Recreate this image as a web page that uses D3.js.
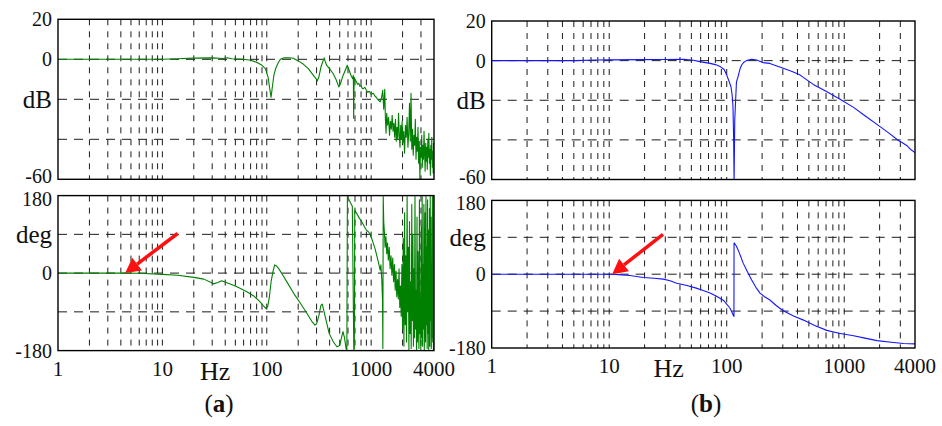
<!DOCTYPE html>
<html>
<head>
<meta charset="utf-8">
<script src="https://cdn.jsdelivr.net/npm/d3@7"></script>
<style>
  body { margin: 0; background: #fff; }
  svg { display: block; }
  text { font-family: "Liberation Serif", "Times New Roman", serif; fill: #111; }
</style>
</head>
<body>
<svg id="chart" width="942" height="426"></svg>
<script>
// ---- Measured response (a): magnitude in dB ----
const magFreqA = [1, 2, 5, 10, 14, 20, 30, 38, 42, 46, 60, 70, 80, 90, 97, 103, 107, 110, 113, 117, 121, 128, 135, 145, 165, 180, 200, 225, 250, 275, 295, 305, 315, 330, 345, 355, 365, 375, 390, 410, 430, 460, 490, 510, 530, 560, 590, 610, 640, 665, 675, 680, 688, 705, 720, 740, 760, 780, 800, 820, 840, 870, 900, 930, 960, 1000, 1050, 1090, 1120, 1150, 1180, 1220, 1260, 1290, 1320,
  1350, 1370, 1390, 1410, 1440, 1470, 1500, 1530, 1560, 1590, 1620, 1650, 1680, 1710, 1740, 1770, 1800, 1830, 1860, 1890, 1920, 1950, 1980, 2010, 2050, 2090, 2130, 2170, 2210, 2250, 2290, 2330, 2370, 2410, 2450, 2490, 2530, 2570, 2610, 2650, 2690, 2730, 2770, 2810, 2850, 2890, 2930, 2970, 3010, 3050, 3090, 3130, 3170, 3210, 3250, 3290, 3330, 3370, 3410, 3450, 3490, 3530, 3570, 3610, 3650, 3690, 3730, 3770, 3810, 3850, 3890, 3930, 3970, 4000];
const magA = [0, 0, 0, 0, 0.3, 0.6, 0.7, 0.4, 0.8, 0.3, 0, -0.5, -1.5, -3, -4.7, -9, -15, -19, -14, -8, -5, -2, 0, 0.7, 0.8, 0.5, -0.8, -2.5, -4.7, -7.5, -9.5, -10.8, -9, -4, -1, 0.7, -1.5, -3, -4, -5.5, -7, -10, -13.8, -12, -9, -6, -3, -5, -8, -9.7, -8, -29.5, -9, -10.5, -11, -12.5, -12, -13.5, -13, -14.5, -14.7, -14, -15.5, -16.5, -16, -17.5, -17, -18.5, -19, -20, -20.5, -21.3, -19, -15.5, -25,
  -15, -30, -37, -27, -33, -29, -38, -31, -35, -28, -36, -32, -39, -30, -41, -34, -40, -27, -38, -44, -33, -40, -31, -42, -36, -47, -33, -39, -29, -44, -37, -22, -41, -17, -45, -35, -48, -38, -43, -30, -50, -39, -46, -34, -52, -41, -60, -44, -49, -38, -54, -43, -50, -36, -47, -56, -42, -51, -44, -55, -40, -49, -37, -52, -45, -58, -43, -50, -39, -54, -46, -57, -42, -48];

// ---- Measured response (a): phase in degrees ----
const phaseFreqA = [1, 4, 6, 10, 14, 20, 25, 31, 34, 37, 42, 50, 56, 65, 75, 85, 93, 98, 102, 106, 110, 115, 119, 125, 132, 145, 160, 181, 210, 243, 270, 290, 300, 315, 330, 340, 350, 370, 396, 435, 470, 500, 520, 537, 555, 575, 585, 592, 620, 660, 682, 690, 697, 730, 760, 800, 830, 870, 900, 940, 970, 1030, 1090, 1160, 1220,
  1240, 1265, 1285, 1295, 1305, 1320, 1340, 1360, 1385, 1410, 1435, 1460, 1490, 1520, 1550, 1580, 1610, 1640, 1670, 1700, 1730, 1760, 1790, 1820, 1850, 1880, 1910, 1940, 1970, 2000, 2030, 2060, 2090, 2120, 2150, 2180, 2210, 2240, 2270, 2300, 2330, 2360, 2390, 2420, 2450, 2480, 2510, 2540, 2570, 2600, 2630, 2660, 2690, 2720, 2750, 2780, 2810, 2840, 2870, 2900, 2930, 2960, 2990, 3020, 3050, 3080, 3110, 3140, 3170, 3200, 3230, 3260, 3290, 3320, 3350, 3380, 3410, 3440, 3470, 3500, 3530, 3560, 3590, 3620, 3650, 3680, 3710, 3740, 3770, 3800, 3830, 3860, 3890, 3920, 3950, 3980, 4000];
const phaseA = [0, 0, -0.5, -3, -5, -10, -14, -25, -22, -18, -23, -30, -36, -44, -53, -65, -76, -82, -78, -55, -20, 5, 19, 16, 8, -8, -25, -47, -70, -94, -112, -121, -118, -100, -75, -72, -85, -110, -140, -160, -171, -168, -150, -136, -150, -175, -180, 178, 168, 155, -178, -176, 146, 138, 130, 122, 115, 106, 100, 96, 92, 75, 57, 30, 7,
  19, -16, -63, -175, 178, 120, 95, 60, 85, 45, 70, 30, 60, 10, 40, -5, 35, -20, 20, -40, 5, -55, -15, -60, 10, -80, -30, -100, 20, -130, 80, -170, 140, -120, 40, -160, 178, -90, 60, -178, 120, -140, -20, -175, 160, -110, 90, -170, 10, -150, 178, -130, -40, -178, 130, -160, 50, -120, -175, 170, -140, -60, -178, 110, -150, 178, -170, 20, -130, 160, -178, -70, 140, -160, 178, -120, 60, -175, 170, -140, 100, -178, -50, 150, -170, 178, -110, 130, -175, 20, -150, 178, -160, 120, -178, 178, -178];

// ---- Model response (b): magnitude in dB ----
const magFreqB = [1, 5, 8, 10, 20, 30, 43, 52, 59, 66, 72, 80, 88, 95, 100, 104, 108.6, 111, 113, 114.5, 115.5, 117, 121, 125, 130, 134, 140, 147, 163, 180, 203, 233, 270, 303, 360, 421, 545, 700, 921, 1200, 1500, 1950, 2400, 2887, 3100, 3400, 3700, 4000];
const magB = [0, 0, 0.3, 0.4, 0.5, 0.6, 0.7, 0.2, -0.5, -1, -1.4, -2, -3, -4.5, -7.3, -10, -13.2, -17, -23, -40, -62, -30, -10.7, -8, -4, -2.2, -0.8, 0, 0.7, 0.3, -1, -1.4, -2.8, -3.9, -5.5, -7.3, -12, -15.5, -19.5, -23.6, -27.8, -32.7, -36.6, -40.3, -41.3, -42.8, -45, -46.4];

// ---- Model response (b): phase in degrees ----
const phaseFreqB = [1, 5, 10, 10.5, 12, 15, 19.5, 24, 28.8, 33, 37.5, 45, 55, 63, 72, 82, 94, 106.7, 115.2, 115.4, 116, 121, 128, 138, 150, 163, 177, 192, 210, 233, 265, 303, 370, 450, 560, 710, 900, 1200, 1500, 1900, 2500, 3200, 4000];
const phaseB = [0, 0, 0, 0, -1, -3, -8, -10, -12, -16, -22, -27, -34, -40, -46, -54, -64, -83, -103, 76, 76, 68, 52, 27, 6, -14, -32, -46, -55, -63, -77, -89, -102, -112, -125, -137, -144, -150, -156, -162, -166, -169, -170];

// ---- Axis ticks and labels ----
const freqGrid = [2, 3, 4, 5, 6, 7, 8, 9, 10, 20, 30, 40, 50, 60, 70, 80, 90, 100, 200, 300, 400, 500, 600, 700, 800, 900, 1000, 2000, 3000];
const freqTicks = [1, 10, 32, 100, 1000, 4000];
const freqTickLabels = ["1", "10", "Hz", "100", "1000", "4000"];
const magTicks = [20, 0, -20, -40, -60];
const magTickLabels = ["20", "0", "dB", "", "-60"];
const phaseTicks = [180, 90, 0, -90, -180];
const phaseTickLabels = ["180", "deg", "0", "", "-180"];

// Pointer arrows, in (frequency, degrees)
const arrowA = { from: [14, 92], to: [4.4, 0] };
const arrowB = { from: [28.7, 97], to: [10.6, 0] };

const svg = d3.select("#chart");
const zip = (xs, ys) => xs.map((x, i) => [x, ys[i]]);

const panels = [
  { left: 58, right: 434, magTop: 19.3, magBottom: 179.3, phTop: 195.6, phBottom: 350.6,
    mag: zip(magFreqA, magA), phase: zip(phaseFreqA, phaseA), color: "#008000",
    arrow: arrowA, caption: "a", capX: 219 },
  { left: 491.7, right: 915, magTop: 21, magBottom: 179.5, phTop: 200.4, phBottom: 348,
    mag: zip(magFreqB, magB), phase: zip(phaseFreqB, phaseB), color: "#1515ff",
    arrow: arrowB, caption: "b", capX: 706 }
];

// Outer labels sit slightly inward from the frame corners so the stacked
// "-60" and "180" labels stay apart.
function labelShift(i, n) {
  if (i === 0) return 2;
  if (i === n - 1) return -3;
  return 0;
}

let clipId = 0;
function drawPlot(p, top, bottom, domain, data, ticks, labels, showX, isPhase) {
  const x = d3.scaleLog().domain([1, 4000]).range([p.left, p.right]);
  const y = d3.scaleLinear().domain(domain).range([bottom, top]);
  const g = svg.append("g");

  // vertical dashed grid at every log subdivision
  g.selectAll("line.vg").data(freqGrid).join("line")
    .attr("x1", d => x(d)).attr("x2", d => x(d))
    .attr("y1", top).attr("y2", bottom)
    .attr("stroke", "#1c1c1c").attr("stroke-width", 1)
    .attr("stroke-dasharray", "6,6");

  // horizontal dashed grid at interior ticks
  g.selectAll("line.hg").data(ticks.slice(1, -1)).join("line")
    .attr("x1", p.left).attr("x2", p.right)
    .attr("y1", d => y(d)).attr("y2", d => y(d))
    .attr("stroke", "#1c1c1c").attr("stroke-width", 1)
    .attr("stroke-dasharray", "9,7");

  // response curve, clipped to the frame
  const id = "clip" + (clipId++);
  svg.append("clipPath").attr("id", id).append("rect")
    .attr("x", p.left).attr("y", top).attr("width", p.right - p.left).attr("height", bottom - top);
  g.append("path").datum(data)
    .attr("clip-path", `url(#${id})`)
    .attr("fill", "none").attr("stroke", p.color).attr("stroke-width", 1.1)
    .attr("stroke-linejoin", "round")
    .attr("d", d3.line().x(d => x(d[0])).y(d => y(d[1])));

  // frame
  g.append("rect").attr("x", p.left).attr("y", top)
    .attr("width", p.right - p.left).attr("height", bottom - top)
    .attr("fill", "none").attr("stroke", "#000").attr("stroke-width", 1.4);

  // y labels
  const n = ticks.length;
  g.selectAll("text.yl").data(ticks.map((t, i) => [t, labels[i], i]).filter(d => d[1])).join("text")
    .attr("x", p.left - 6)
    .attr("y", d => y(d[0]) + (isPhase ? (d[2] === 0 ? 3 : 0) : (d[2] === n - 1 ? -3 : 0)))
    .attr("text-anchor", "end").attr("dominant-baseline", "central")
    .attr("font-size", d => /[a-z]/i.test(d[1]) ? 25 : 20)
    .text(d => d[1]);

  if (showX) {
    g.selectAll("text.xl").data(freqTicks.map((t, i) => [t, freqTickLabels[i]])).join("text")
      .attr("x", d => x(d[0])).attr("y", d => /[a-z]/i.test(d[1]) ? bottom + 29 : bottom + 25)
      .attr("text-anchor", "middle")
      .attr("font-size", d => /[a-z]/i.test(d[1]) ? 26 : 21)
      .text(d => d[1]);
  }
  return { x, y };
}

panels.forEach(p => {
  drawPlot(p, p.magTop, p.magBottom, [-60, 20], p.mag, magTicks, magTickLabels, false, false);
  const s = drawPlot(p, p.phTop, p.phBottom, [-180, 180], p.phase, phaseTicks, phaseTickLabels, true, true);

  // red pointer arrow
  const x1 = s.x(p.arrow.from[0]), y1 = s.y(p.arrow.from[1]);
  const x2 = s.x(p.arrow.to[0]), y2 = s.y(p.arrow.to[1]);
  const ang = Math.atan2(y2 - y1, x2 - x1);
  const hl = 15, hw = 8;
  const bx = x2 - hl * Math.cos(ang), by = y2 - hl * Math.sin(ang);
  svg.append("line").attr("x1", x1).attr("y1", y1).attr("x2", bx).attr("y2", by)
    .attr("stroke", "#ff1010").attr("stroke-width", 3.5);
  svg.append("polygon")
    .attr("points", [
      [x2, y2],
      [bx + hw * Math.sin(ang), by - hw * Math.cos(ang)],
      [bx - hw * Math.sin(ang), by + hw * Math.cos(ang)]
    ].map(d => d.join(",")).join(" "))
    .attr("fill", "#ff1010");

  // panel caption: (a) / (b)
  const cap = svg.append("text").attr("x", p.capX).attr("y", 412)
    .attr("text-anchor", "middle").attr("font-size", 25);
  cap.append("tspan").text("(");
  cap.append("tspan").attr("font-weight", "bold").text(p.caption);
  cap.append("tspan").text(")");
});
</script>
</body>
</html>
